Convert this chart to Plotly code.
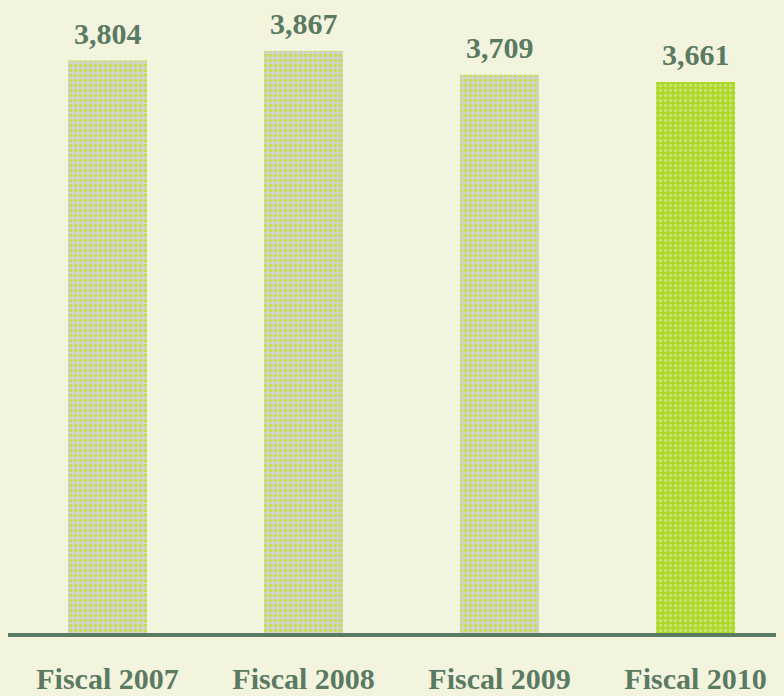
import plotly.graph_objects as go

categories = ["Fiscal 2007", "Fiscal 2008", "Fiscal 2009", "Fiscal 2010"]
values = [3804, 3867, 3709, 3661]
value_labels = ["3,804", "3,867", "3,709", "3,661"]

bar_bg = ["#d2d3cf", "#d2d3cf", "#d2d3cf", "#acda24"]
bar_fg = ["#c4e042", "#c4e042", "#c4e042", "#c6e27a"]

text_color = "#5b7a64"
font_family = "Liberation Serif, Times New Roman, serif"
page_bg = "#f3f4de"

fig = go.Figure()
for c, v, bg, fg in zip(categories, values, bar_bg, bar_fg):
    fig.add_trace(go.Bar(
        x=[c],
        y=[v],
        width=0.403,
        marker=dict(
            color=bg,
            line=dict(width=0),
            pattern=dict(shape=".", fgcolor=fg, fgopacity=1, size=5, solidity=0.35, fillmode="overlay"),
        ),
        hoverinfo="skip",
    ))

for c, v, t in zip(categories, values, value_labels):
    fig.add_annotation(x=c, y=v, text=t, showarrow=False, yanchor="bottom", yshift=9,
                       font=dict(family=font_family, size=30, color=text_color, weight="bold"))

fig.update_layout(
    width=776, height=688,
    margin=dict(l=0, r=0, t=0, b=63),
    paper_bgcolor=page_bg,
    plot_bgcolor="rgba(0,0,0,0)",
    showlegend=False,
    barmode="overlay",
    xaxis=dict(
        range=[-0.5077, 3.451],
        categoryorder="array", categoryarray=categories,
        showline=True, linecolor="#5b7a64", linewidth=4,
        showgrid=False, zeroline=False, ticks="",
        tickfont=dict(family=font_family, size=30, color=text_color, weight="bold"),
        ticklabelstandoff=16,
    ),
    yaxis=dict(range=[0, 4153], visible=False, showgrid=False, zeroline=False),
)

fig.write_html("out.html", post_script="document.body.style.background='%s';" % page_bg)
